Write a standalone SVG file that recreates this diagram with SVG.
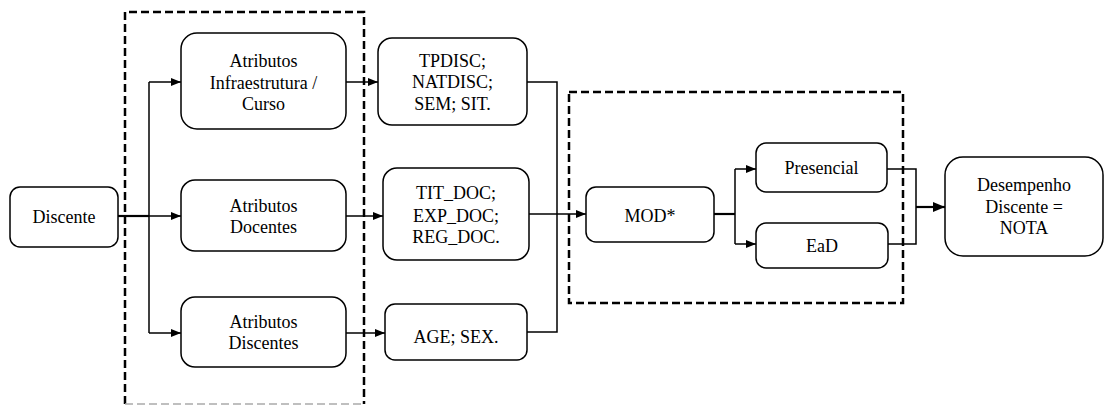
<svg xmlns="http://www.w3.org/2000/svg" width="1105" height="405" viewBox="0 0 1105 405">
<style>
.box{fill:#fff;stroke:#000;stroke-width:1.5}
.dash{fill:none;stroke:#000;stroke-width:2.5;stroke-dasharray:8 4}
.ln{fill:none;stroke:#000;stroke-width:1.5}
.thk{fill:none;stroke:#000;stroke-width:2.2}
.t{font-family:'Liberation Serif','DejaVu Serif','Times New Roman',serif;font-size:18px;fill:#000;text-anchor:middle}
</style>
<defs>
<marker id="ah" markerWidth="10" markerHeight="8" refX="10" refY="4" orient="auto" markerUnits="userSpaceOnUse">
<path d="M0,0 L10,4 L0,8 Z" fill="#000"/>
</marker>
<marker id="ah2" markerWidth="12" markerHeight="10" refX="12" refY="5" orient="auto" markerUnits="userSpaceOnUse">
<path d="M0,0 L12,5 L0,10 Z" fill="#000"/>
</marker>
</defs>
<g id="groups">
<path class="dash" d="M125,404 V12 H364 V404"/>
<path d="M125,404 H364" fill="none" stroke="#aaa" stroke-width="1.5" stroke-dasharray="8 4"/>
<rect class="dash" x="569" y="92" width="334" height="211"/>
</g>
<g id="connectors">
<path class="thk" d="M118,216 H149"/>
<path class="ln" d="M149,216 H181" marker-end="url(#ah)"/>
<path class="ln" d="M149,82 V333"/>
<path class="ln" d="M149,82 H181" marker-end="url(#ah)"/>
<path class="ln" d="M149,333 H181" marker-end="url(#ah)"/>
<path class="ln" d="M346,82 H378" marker-end="url(#ah)"/>
<path class="ln" d="M346,216 H383" marker-end="url(#ah)"/>
<path class="ln" d="M346,333 H385" marker-end="url(#ah)"/>
<path class="ln" d="M527,82 H557 V332 H527"/>
<path class="ln" d="M529,214 H586" marker-end="url(#ah)"/>
<path class="thk" d="M714,214 H735"/>
<path class="ln" d="M735,169 V244"/>
<path class="ln" d="M735,169 H756" marker-end="url(#ah)"/>
<path class="ln" d="M735,244 H756" marker-end="url(#ah)"/>
<path class="ln" d="M887,169 H916 V244 H888"/>
<path class="thk" d="M916,207 H945" marker-end="url(#ah2)"/>
</g>
<g id="discente">
<rect class="box" x="10" y="187" width="108" height="60" rx="10"/>
<text class="t" x="64" y="223">Discente</text>
</g>
<g id="attr-infra">
<rect class="box" x="181" y="33" width="165" height="96" rx="16"/>
<text class="t" x="263.5" y="67">Atributos</text>
<text class="t" x="263.5" y="89">Infraestrutura /</text>
<text class="t" x="263.5" y="110">Curso</text>
</g>
<g id="attr-docentes">
<rect class="box" x="181" y="180" width="165" height="71" rx="14"/>
<text class="t" x="263.5" y="212">Atributos</text>
<text class="t" x="263.5" y="233">Docentes</text>
</g>
<g id="attr-discentes">
<rect class="box" x="181" y="297" width="165" height="70" rx="14"/>
<text class="t" x="263.5" y="328">Atributos</text>
<text class="t" x="263.5" y="349">Discentes</text>
</g>
<g id="tpdisc">
<rect class="box" x="378" y="38" width="149" height="87" rx="14"/>
<text class="t" x="452.5" y="67">TPDISC;</text>
<text class="t" x="452.5" y="88">NATDISC;</text>
<text class="t" x="452.5" y="110">SEM; SIT.</text>
</g>
<g id="titdoc">
<rect class="box" x="383" y="168" width="146" height="92" rx="14"/>
<text class="t" x="456" y="199">TIT_DOC;</text>
<text class="t" x="456" y="222">EXP_DOC;</text>
<text class="t" x="456" y="243">REG_DOC.</text>
</g>
<g id="age">
<rect class="box" x="385" y="304" width="142" height="56" rx="10"/>
<text class="t" x="456" y="343">AGE; SEX.</text>
</g>
<g id="mod">
<rect class="box" x="586" y="187" width="128" height="55" rx="10"/>
<text class="t" x="650" y="222">MOD*</text>
</g>
<g id="presencial">
<rect class="box" x="756" y="143" width="131" height="49" rx="10"/>
<text class="t" x="821.5" y="174">Presencial</text>
</g>
<g id="ead">
<rect class="box" x="756" y="223" width="132" height="45" rx="10"/>
<text class="t" x="822" y="252">EaD</text>
</g>
<g id="desempenho">
<rect class="box" x="945" y="157" width="158" height="99" rx="18"/>
<text class="t" x="1024" y="191">Desempenho</text>
<text class="t" x="1024" y="213">Discente =</text>
<text class="t" x="1024" y="234">NOTA</text>
</g>
</svg>
